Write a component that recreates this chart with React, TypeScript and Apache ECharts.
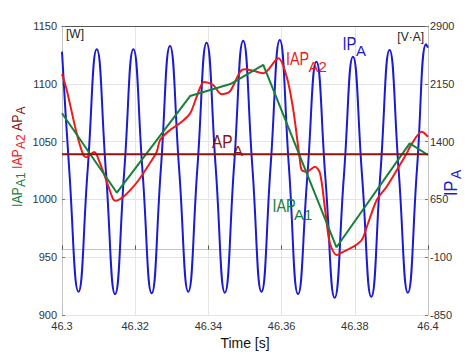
import React, { useEffect, useRef } from 'react';
import * as echarts from 'echarts';

const FONT = 'Liberation Sans, Arial, sans-serif';

const X_MIN = 46.3;
const X_MAX = 46.4;
const X_STEP = 0.02;
const LEFT_MIN = 900;
const LEFT_MAX = 1150;
const LEFT_STEP = 50;
const RIGHT_MIN = -850;
const RIGHT_MAX = 2900;
const RIGHT_STEP = 750;

// IP_A instantaneous power [V·A] (right axis)
const ipTimes = [
  46.3, 46.302, 46.3045, 46.307, 46.3095, 46.312, 46.3145, 46.317, 46.3195, 46.322,
  46.3245, 46.327, 46.3295, 46.332, 46.3345, 46.337, 46.3395, 46.342, 46.3445, 46.347,
  46.3495, 46.352, 46.3545, 46.357, 46.3595, 46.362, 46.3645, 46.367, 46.3695, 46.372,
  46.3745, 46.377, 46.3795, 46.382, 46.3845, 46.387, 46.3895, 46.392, 46.3945, 46.397,
  46.3995, 46.4,
];
const ipValues = [
  2567, 1020, -548, 1025, 2598, 1010, -578, 1010, 2598, 1015,
  -569, 1035, 2640, 1045, -548, 1065, 2683, 1060, -561, 1075,
  2709, 1080, -548, 1085, 2718, 1070, -578, 930, 2437, 905,
  -626, 940, 2502, 945, -613, 990, 2589, 1015, -561, 1050,
  2663, 2620,
];

// IAP_A2 [W] (left axis)
const iap2Times = [
  46.3, 46.3013, 46.304, 46.3058, 46.3066, 46.3088, 46.3104, 46.3127, 46.314, 46.3147,
  46.3168, 46.3195, 46.3213, 46.324, 46.3259, 46.3268, 46.3295, 46.3322, 46.335, 46.3368,
  46.3388, 46.3413, 46.3436, 46.3459, 46.3486, 46.35, 46.3525, 46.355, 46.3591, 46.3614,
  46.3632, 46.365, 46.3655, 46.3669, 46.3691, 46.3705, 46.3719, 46.3732, 46.3751, 46.3769,
  46.3796, 46.3819, 46.3833, 46.386, 46.3887, 46.3915, 46.3942, 46.3951, 46.3983, 46.4,
];
const iap2Values = [
  1108.5, 1094.6, 1057.2, 1038.5, 1036.5, 1041, 1031.2, 1011, 1000.1, 998.9,
  1002.3, 1011, 1018.3, 1031.2, 1041.3, 1051.4, 1060, 1065.8, 1074.4, 1088.8,
  1101.6, 1099, 1090.9, 1093.5, 1110, 1112.5, 1111, 1109.1, 1122.1, 1106.1,
  1077.3, 1034.1, 1025.4, 1024, 1028.3, 1022.6, 990.8, 962, 951.9, 954.8,
  959.1, 964.9, 976.4, 999.5, 1011, 1025.4, 1039.9, 1045.6, 1058.6, 1054.2,
];

// IAP_A1 [W] (left axis)
const iap1Times = [46.3, 46.315, 46.335, 46.346, 46.355, 46.375, 46.395, 46.4];
const iap1Values = [1074.5, 1005.8, 1089.4, 1099.8, 1116.3, 958.6, 1048.5, 1038.4];

// AP_A [W] (left axis)
const apTimes = [46.3, 46.4];
const apValues = [1039, 1039];

const zip = (t: number[], v: number[]) => t.map((x, i) => [x, v[i]]);

const C_BLUE = '#1b1bd2';
const C_RED = '#ec1c1c';
const C_GREEN = '#17803a';
const C_DARKRED = '#8a1414';

function txt(text: string, x: number, y: number, fontSize: number, fill: string, scaleX = 1, rotation = 0) {
  return {
    type: 'text',
    x,
    y,
    scaleX,
    rotation,
    silent: true,
    z: 100,
    style: { text, fontSize, fill, fontFamily: FONT, align: 'left', verticalAlign: 'middle' },
  };
}

export default function App() {
  const ref = useRef<HTMLDivElement>(null);
  useEffect(() => {
    if (!ref.current) return;
    const chart = echarts.init(ref.current, undefined, { renderer: 'svg' });
    const axisLabelStyle = { fontSize: 11, color: '#333', fontFamily: FONT };
    const plain = (v: number) => String(Number(v.toFixed(2)));
    const option: any = {
      animation: false,
      backgroundColor: '#ffffff',
      grid: { left: 62, right: 46, top: 26, bottom: 40, containLabel: false, outerBoundsMode: 'none' },
      xAxis: [
        {
          type: 'value',
          min: X_MIN,
          max: X_MAX,
          interval: X_STEP,
          axisLine: { show: true, lineStyle: { color: '#c4c4c4', width: 1 } },
          axisTick: { show: true, inside: true, length: 4, lineStyle: { color: '#555' } },
          axisLabel: { ...axisLabelStyle, margin: 5, formatter: plain },
          splitLine: { show: true, lineStyle: { color: '#e4e4e4', width: 1 } },
          name: 'Time [s]',
          nameLocation: 'middle',
          nameGap: 20,
          nameTextStyle: { fontSize: 14, color: '#111', fontFamily: FONT },
        },
        {
          type: 'value',
          position: 'top',
          min: X_MIN,
          max: X_MAX,
          axisLine: { show: true, lineStyle: { color: '#555', width: 1 } },
          axisTick: { show: false },
          axisLabel: { show: false },
          splitLine: { show: false },
        },
      ],
      yAxis: [
        {
          type: 'value',
          min: LEFT_MIN,
          max: LEFT_MAX,
          interval: LEFT_STEP,
          axisLine: { show: true, lineStyle: { color: '#c4c4c4' } },
          axisTick: { show: true, inside: true, length: 3, lineStyle: { color: '#777' } },
          axisLabel: { ...axisLabelStyle, margin: 5, formatter: plain },
          splitLine: { show: true, lineStyle: { color: '#e4e4e4', width: 1 } },
        },
        {
          type: 'value',
          position: 'right',
          min: RIGHT_MIN,
          max: RIGHT_MAX,
          interval: RIGHT_STEP,
          axisLine: { show: true, lineStyle: { color: '#c4c4c4' } },
          axisTick: { show: true, inside: true, length: 3, lineStyle: { color: '#777' } },
          axisLabel: { ...axisLabelStyle, margin: 2, formatter: plain },
          splitLine: { show: false },
        },
      ],
      series: [
        {
          name: 'IP_A',
          type: 'line',
          xAxisIndex: 0,
          yAxisIndex: 1,
          data: zip(ipTimes, ipValues),
          smooth: 0.5,
          showSymbol: false,
          lineStyle: { color: C_BLUE, width: 2 },
          z: 2,
        },
        {
          name: 'IAP_A2',
          type: 'line',
          xAxisIndex: 0,
          yAxisIndex: 0,
          data: zip(iap2Times, iap2Values),
          smooth: 0.3,
          showSymbol: false,
          lineStyle: { color: C_RED, width: 2 },
          z: 3,
        },
        {
          name: 'IAP_A1',
          type: 'line',
          xAxisIndex: 0,
          yAxisIndex: 0,
          data: zip(iap1Times, iap1Values),
          showSymbol: false,
          lineStyle: { color: C_GREEN, width: 2 },
          z: 4,
        },
        {
          name: 'AP_A',
          type: 'line',
          xAxisIndex: 0,
          yAxisIndex: 0,
          data: zip(apTimes, apValues),
          showSymbol: false,
          lineStyle: { color: C_DARKRED, width: 2 },
          z: 5,
        },
      ],
      graphic: [
        {
          type: 'text', x: 66, y: 34, silent: true, z: 100,
          style: { text: '[W]', fontSize: 12, fill: '#222', fontFamily: FONT, align: 'left', verticalAlign: 'middle' },
        },
        {
          type: 'text', x: 424, y: 37, silent: true, z: 100,
          style: { text: '[V·A]', fontSize: 12, fill: '#222', fontFamily: FONT, align: 'right', verticalAlign: 'middle' },
        },
        // IAP_A2 label
        txt('IAP', 286, 58.3, 18, C_RED, 0.8),
        txt('A2', 308.5, 66.3, 15, C_RED),
        // IP_A label
        txt('IP', 342.5, 43.7, 18, C_BLUE, 0.82),
        txt('A', 356, 50.5, 15, C_BLUE),
        // AP_A label
        txt('AP', 212, 142, 18, C_DARKRED, 0.86),
        txt('A', 233, 150.3, 15, C_DARKRED),
        // IAP_A1 label
        txt('IAP', 272.5, 205.7, 18, C_GREEN, 0.8),
        txt('A1', 294, 214, 15, C_GREEN),
        // Left rotated axis title
        txt('IAP', 17.4, 207, 15, C_GREEN, 0.82, Math.PI / 2),
        txt('A1', 21, 187, 12, C_GREEN, 1, Math.PI / 2),
        txt('IAP', 17.4, 169, 15, C_RED, 0.82, Math.PI / 2),
        txt('A2', 21, 149, 12, C_RED, 1, Math.PI / 2),
        txt('AP', 17.4, 131, 15, C_DARKRED, 0.82, Math.PI / 2),
        txt('A', 21, 114.6, 12, C_DARKRED, 1, Math.PI / 2),
        // Right rotated axis title
        txt('IP', 451, 196, 18, C_BLUE, 0.9, Math.PI / 2),
        txt('A', 456, 179, 14, C_BLUE, 1, Math.PI / 2),
      ],
    };
    chart.setOption(option);
    return () => chart.dispose();
  }, []);
  return <div ref={ref} style={{ position: 'absolute', left: 0, top: 0, width: 474, height: 355 }} />;
}
